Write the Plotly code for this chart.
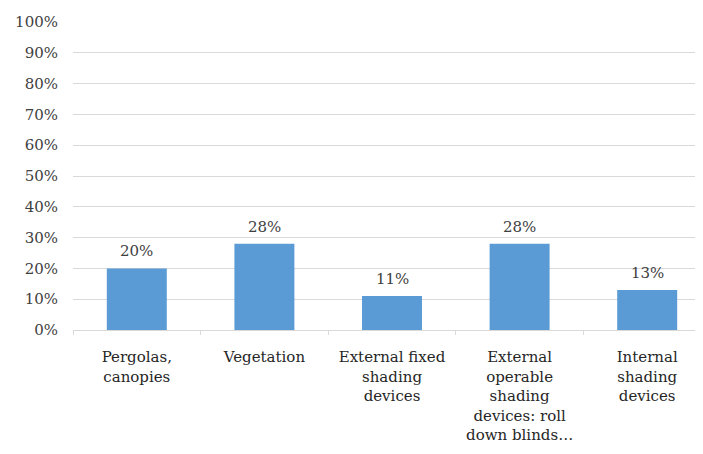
import plotly.graph_objects as go

# =========================================================
# DATA
# =========================================================
categories = [
    "Pergolas,<br>canopies",
    "Vegetation",
    "External fixed<br>shading<br>devices",
    "External<br>operable<br>shading<br>devices: roll<br>down blinds…",
    "Internal<br>shading<br>devices",
]
shares = [0.20, 0.28, 0.11, 0.28, 0.13]
y_ticks = [i / 10 for i in range(11)]

font_color = "#404040"
grid_color = "#d9d9d9"
serif = "DejaVu Serif"

fig = go.Figure(go.Bar(
    x=categories,
    y=shares,
    marker=dict(color="#5b9bd5", line=dict(width=0)),
    width=0.47,
    hoverinfo="x+y",
))

# value labels above the bars
for cat, val in zip(categories, shares):
    fig.add_annotation(
        x=cat, y=val,
        text=f"{val:.0%}",
        showarrow=False,
        yanchor="bottom",
        yshift=6,
        font=dict(family=serif, size=15, color=font_color),
    )

# page body adds an 8px offset, margins compensate for it
fig.update_layout(
    width=703,
    height=454,
    paper_bgcolor="#FFFFFF",
    plot_bgcolor="#FFFFFF",
    font=dict(family=serif, color=font_color, size=15),
    margin=dict(l=65, r=0, t=14, b=132),
    showlegend=False,
    xaxis=dict(
        showgrid=False,
        showline=True,
        linecolor=grid_color,
        linewidth=1,
        tickfont=dict(family=serif, size=15, color="#262626"),
        ticks="outside",
        tickson="boundaries",
        ticklen=4,
        tickcolor=grid_color,
        ticklabelstandoff=13,
    ),
    yaxis=dict(
        range=[0, 1],
        tickvals=y_ticks,
        tickformat=".0%",
        showgrid=True,
        gridcolor=grid_color,
        gridwidth=1,
        zeroline=False,
        ticks="",
        ticklabelstandoff=14,
        tickfont=dict(family=serif, size=15, color=font_color),
    ),
)

fig.write_html("out.html")
